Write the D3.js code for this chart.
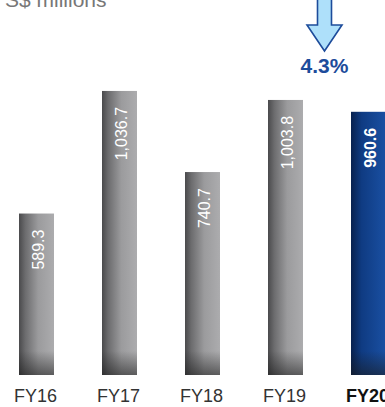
<!DOCTYPE html>
<html>
<head>
<meta charset="utf-8">
<script src="https://cdn.jsdelivr.net/npm/d3@7"></script>
<style>
  html, body { margin: 0; padding: 0; background: #fff; }
  svg { display: block; font-family: "Liberation Sans", Arial, sans-serif; }
</style>
</head>
<body>
<script>
const years = ["FY16", "FY17", "FY18", "FY19", "FY20"];
const revenue = [589.3, 1036.7, 740.7, 1003.8, 960.6];
const valueLabels = ["589.3", "1,036.7", "740.7", "1,003.8", "960.6"];
const changeLabel = "4.3%";
const unitLabel = "S$ millions";

const width = 385, height = 407;
const barW = 35;

const svg = d3.select("body").append("svg")
    .attr("width", width)
    .attr("height", height);

const x = d3.scalePoint().domain(years).range([36.5, 368.5]);
const y = d3.scaleLinear().domain([0, 1000]).range([375, 101]);

const defs = svg.append("defs");

const grey = defs.append("linearGradient").attr("id", "grey");
grey.selectAll("stop")
    .data([[0, "#4a4a4c"], [0.18, "#6c6c6e"], [0.55, "#9b9b9d"], [1, "#acacae"]])
    .join("stop")
    .attr("offset", d => d[0])
    .attr("stop-color", d => d[1]);

const blue = defs.append("linearGradient").attr("id", "blue");
blue.selectAll("stop")
    .data([[0, "#08214f"], [0.3, "#0f3b82"], [1, "#1a50a3"]])
    .join("stop")
    .attr("offset", d => d[0])
    .attr("stop-color", d => d[1]);

const shade = defs.append("linearGradient").attr("id", "shade")
    .attr("x1", 0).attr("x2", 0).attr("y1", 0).attr("y2", 1);
shade.selectAll("stop")
    .data([[0, 0], [1, 0.55]])
    .join("stop")
    .attr("offset", d => d[0])
    .attr("stop-color", "#1a1a1a")
    .attr("stop-opacity", d => d[1]);

const rows = years.map((yr, i) => ({year: yr, value: revenue[i], label: valueLabels[i], last: i === years.length - 1}));

// bars
svg.append("g").selectAll("rect")
    .data(rows)
    .join("rect")
    .attr("x", d => x(d.year) - barW / 2)
    .attr("y", d => y(d.value))
    .attr("width", barW)
    .attr("height", d => y(0) - y(d.value))
    .attr("fill", d => d.last ? "url(#blue)" : "url(#grey)");

// darker foot of each bar
svg.append("g").selectAll("rect")
    .data(rows)
    .join("rect")
    .attr("x", d => x(d.year) - barW / 2)
    .attr("y", y(0) - 24)
    .attr("width", barW)
    .attr("height", 24)
    .attr("fill", "url(#shade)");

// value labels inside bars
svg.append("g").selectAll("text")
    .data(rows)
    .join("text")
    .attr("transform", d => `translate(${x(d.year) + 1.5},${y(d.value) + 16}) rotate(-90)`)
    .attr("text-anchor", "end")
    .attr("dy", "0.35em")
    .attr("fill", "#fff")
    .attr("font-size", 16)
    .attr("font-weight", d => d.last ? "bold" : "normal")
    .text(d => d.label);

// category labels
svg.append("g").selectAll("text")
    .data(rows)
    .join("text")
    .attr("x", d => x(d.year) - 1)
    .attr("y", 402)
    .attr("text-anchor", "middle")
    .attr("fill", d => d.last ? "#111" : "#333")
    .attr("font-size", 18)
    .attr("font-weight", d => d.last ? "bold" : "normal")
    .text(d => d.year);

// unit label, partly off the top
svg.append("text")
    .attr("x", 5)
    .attr("y", 7)
    .attr("fill", "#777")
    .attr("font-size", 21)
    .text(unitLabel);

// down arrow and change
const ax = 324.5;
svg.append("path")
    .attr("d", `M${ax - 7},-3 L${ax + 7},-3 L${ax + 7},25 L${ax + 17.5},25 L${ax},51 L${ax - 17.5},25 L${ax - 7},25 Z`)
    .attr("fill", "#aee0fa")
    .attr("stroke", "#1d4c9b")
    .attr("stroke-width", 1.6)
    .attr("stroke-linejoin", "miter");

svg.append("text")
    .attr("x", ax)
    .attr("y", 73)
    .attr("text-anchor", "middle")
    .attr("fill", "#1d4c9b")
    .attr("font-size", 21)
    .attr("font-weight", "bold")
    .text(changeLabel);
</script>
</body>
</html>
